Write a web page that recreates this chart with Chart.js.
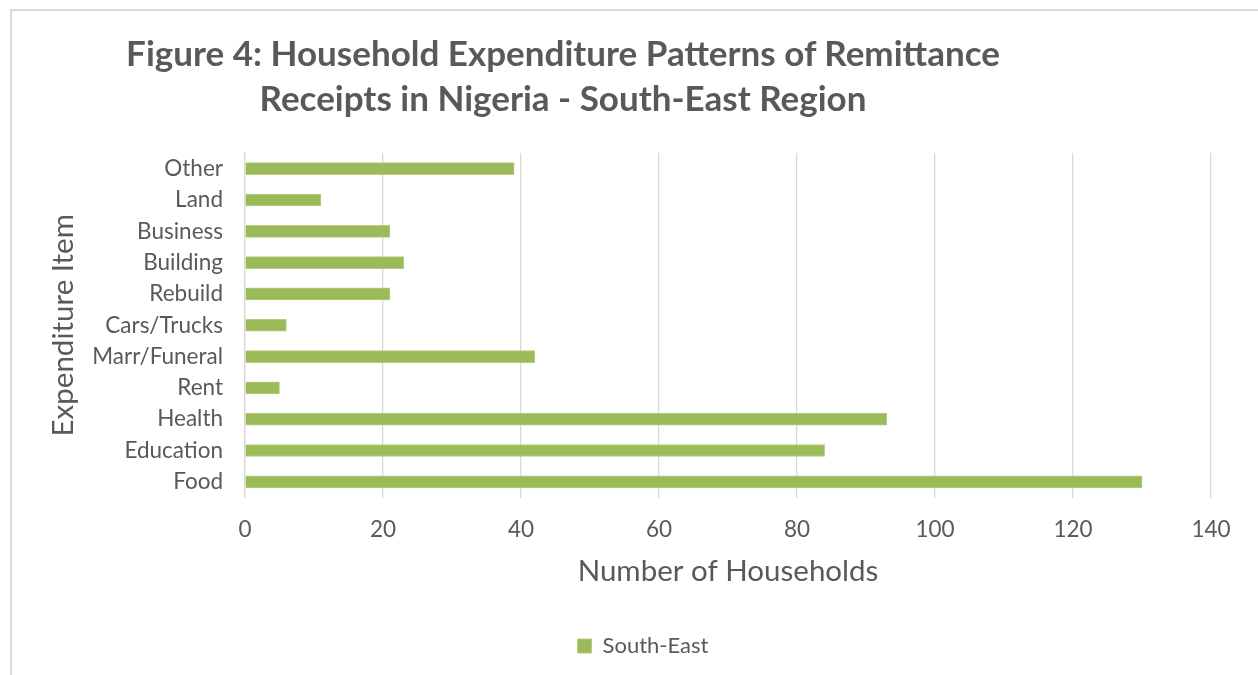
<!DOCTYPE html>
<html>
<head>
<meta charset="utf-8">
<script src="https://cdn.jsdelivr.net/npm/chart.js@4.4.1/dist/chart.umd.min.js"></script>
<style>
  html, body { margin: 0; padding: 0; background: #ffffff; overflow: hidden; }
  #wrap { position: relative; width: 1258px; height: 675px; }
  #frame { position: absolute; left: 10px; top: 9px; width: 1300px; height: 720px; border: 2px solid #D9D9D9; box-sizing: border-box; }
  #title { position: absolute; left: 63px; width: 1000px; top: 0; text-align: center; font-family: Lato, sans-serif; font-weight: bold; font-size: 35px; color: #595959; }
  #title div { position: absolute; left: 0; width: 1000px; line-height: 1; white-space: nowrap; }
  canvas { position: absolute; left: 0; top: 0; }
</style>
</head>
<body>
<div id="wrap">
  <div id="frame"></div>
  <canvas id="c" width="1258" height="675"></canvas>
  <div id="title">
    <div style="top:35px">Figure 4: Household Expenditure Patterns of Remittance</div>
    <div style="top:80px">Receipts in Nigeria - South-East Region</div>
  </div>
</div>
<script>
const categories = ["Other", "Land", "Business", "Building", "Rebuild", "Cars/Trucks", "Marr/Funeral", "Rent", "Health", "Education", "Food"];
const southEast = [39, 11, 21, 23, 21, 6, 42, 5, 93, 84, 130];
const seriesName = "South-East";
const xAxisTitle = "Number of Households";
const yAxisTitle = "Expenditure Item";

const grey = '#595959';
new Chart(document.getElementById('c'), {
  type: 'bar',
  data: {
    labels: categories,
    datasets: [{
      label: seriesName,
      data: southEast,
      backgroundColor: '#9BBB59',
      borderColor: '#B3CD82',
      borderWidth: 1,
      barThickness: 12
    }]
  },
  options: {
    indexAxis: 'y',
    responsive: false,
    animation: false,
    devicePixelRatio: 1,
    layout: { padding: { top: 153, right: 47, left: 75, bottom: 8 } },
    plugins: {
      legend: {
        position: 'bottom',
        labels: {
          boxWidth: 14, boxHeight: 14, padding: 10,
          color: grey,
          font: { family: 'Lato', size: 22 }
        }
      },
      tooltip: { enabled: false },
      title: { display: false }
    },
    scales: {
      x: {
        min: 0, max: 140,
        ticks: { stepSize: 20, color: grey, padding: 19, font: { family: 'Lato', size: 22.5 } },
        grid: { color: '#D9D9D9', lineWidth: 1.3, drawTicks: false },
        border: { display: false },
        title: { display: true, text: xAxisTitle, color: grey, font: { family: 'Lato', size: 29.5 }, padding: { top: 0, bottom: 36 } },
        afterFit(scale) { scale.height = 127.5; }
      },
      y: {
        ticks: { color: grey, padding: 22, font: { family: 'Lato', size: 22.5 } },
        grid: { display: false, drawTicks: false },
        border: { display: true, color: '#D9D9D9', width: 1.3 },
        title: { display: true, text: yAxisTitle, color: grey, font: { family: 'Lato', size: 29.5 }, padding: { top: -29, bottom: 0 } },
        afterFit(scale) { scale.width = 170; }
      }
    }
  }
});
</script>
</body>
</html>
